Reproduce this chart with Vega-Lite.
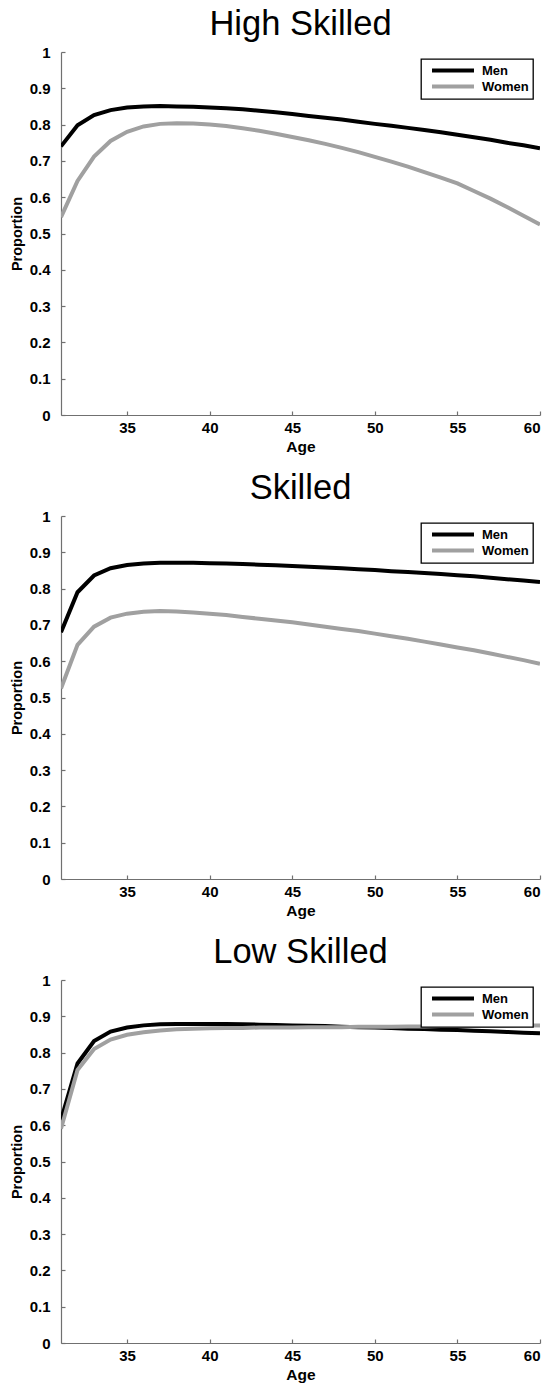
{
  "$schema": "https://vega.github.io/schema/vega-lite/v6.json",
  "background": "white",
  "padding": {"left": 9, "top": 6, "right": 5, "bottom": 5},
  "config": {
    "view": {"stroke": null},
    "font": "Liberation Sans",
    "title": {"font": "Liberation Sans", "fontSize": 34.5, "fontWeight": "normal", "color": "black", "offset": 3},
    "axis": {"labelFont": "Liberation Sans", "labelFontWeight": "bold", "labelFontSize": 15, "labelColor": "black", "titleFont": "Liberation Sans", "titleFontWeight": "bold", "titleFontSize": 14.5, "titleColor": "black", "domainColor": "#707070", "tickColor": "#707070", "domainWidth": 1.2, "tickWidth": 1.2, "grid": false, "tickSize": -4},
    "axisX": {"labelPadding": 9.5, "titlePadding": 4, "titleFontSize": 15.5},
    "axisY": {"labelPadding": 15, "titlePadding": 5},
    "legend": {"orient": "top-right", "offset": 7, "padding": 4, "strokeColor": "black", "strokeWidth": 1.3, "fillColor": "white", "symbolType": "M-0.09,0H7.545", "symbolSize": 121, "symbolStrokeWidth": 4, "labelOffset": 42, "labelFont": "Liberation Sans", "labelFontSize": 13, "labelFontWeight": "bold", "labelColor": "black", "rowPadding": -6, "title": null},
    "concat": {"spacing": 15}
  },
  "datasets": {
    "d": [
      {"g":"High Skilled","s":"Men","a":31,"p":0.740},{"g":"High Skilled","s":"Men","a":32,"p":0.798},{"g":"High Skilled","s":"Men","a":33,"p":0.826},{"g":"High Skilled","s":"Men","a":34,"p":0.840},{"g":"High Skilled","s":"Men","a":35,"p":0.847},{"g":"High Skilled","s":"Men","a":36,"p":0.850},{"g":"High Skilled","s":"Men","a":37,"p":0.851},{"g":"High Skilled","s":"Men","a":38,"p":0.850},{"g":"High Skilled","s":"Men","a":39,"p":0.849},{"g":"High Skilled","s":"Men","a":40,"p":0.847},{"g":"High Skilled","s":"Men","a":41,"p":0.845},{"g":"High Skilled","s":"Men","a":42,"p":0.842},{"g":"High Skilled","s":"Men","a":43,"p":0.838},{"g":"High Skilled","s":"Men","a":44,"p":0.834},{"g":"High Skilled","s":"Men","a":45,"p":0.829},{"g":"High Skilled","s":"Men","a":46,"p":0.824},{"g":"High Skilled","s":"Men","a":47,"p":0.819},{"g":"High Skilled","s":"Men","a":48,"p":0.814},{"g":"High Skilled","s":"Men","a":49,"p":0.808},{"g":"High Skilled","s":"Men","a":50,"p":0.802},{"g":"High Skilled","s":"Men","a":51,"p":0.797},{"g":"High Skilled","s":"Men","a":52,"p":0.791},{"g":"High Skilled","s":"Men","a":53,"p":0.785},{"g":"High Skilled","s":"Men","a":54,"p":0.779},{"g":"High Skilled","s":"Men","a":55,"p":0.772},{"g":"High Skilled","s":"Men","a":56,"p":0.765},{"g":"High Skilled","s":"Men","a":57,"p":0.758},{"g":"High Skilled","s":"Men","a":58,"p":0.750},{"g":"High Skilled","s":"Men","a":59,"p":0.743},{"g":"High Skilled","s":"Men","a":60,"p":0.735},
      {"g":"High Skilled","s":"Women","a":31,"p":0.545},{"g":"High Skilled","s":"Women","a":32,"p":0.645},{"g":"High Skilled","s":"Women","a":33,"p":0.712},{"g":"High Skilled","s":"Women","a":34,"p":0.755},{"g":"High Skilled","s":"Women","a":35,"p":0.780},{"g":"High Skilled","s":"Women","a":36,"p":0.795},{"g":"High Skilled","s":"Women","a":37,"p":0.802},{"g":"High Skilled","s":"Women","a":38,"p":0.804},{"g":"High Skilled","s":"Women","a":39,"p":0.803},{"g":"High Skilled","s":"Women","a":40,"p":0.800},{"g":"High Skilled","s":"Women","a":41,"p":0.796},{"g":"High Skilled","s":"Women","a":42,"p":0.790},{"g":"High Skilled","s":"Women","a":43,"p":0.783},{"g":"High Skilled","s":"Women","a":44,"p":0.775},{"g":"High Skilled","s":"Women","a":45,"p":0.766},{"g":"High Skilled","s":"Women","a":46,"p":0.757},{"g":"High Skilled","s":"Women","a":47,"p":0.747},{"g":"High Skilled","s":"Women","a":48,"p":0.736},{"g":"High Skilled","s":"Women","a":49,"p":0.724},{"g":"High Skilled","s":"Women","a":50,"p":0.711},{"g":"High Skilled","s":"Women","a":51,"p":0.698},{"g":"High Skilled","s":"Women","a":52,"p":0.684},{"g":"High Skilled","s":"Women","a":53,"p":0.669},{"g":"High Skilled","s":"Women","a":54,"p":0.654},{"g":"High Skilled","s":"Women","a":55,"p":0.638},{"g":"High Skilled","s":"Women","a":56,"p":0.617},{"g":"High Skilled","s":"Women","a":57,"p":0.596},{"g":"High Skilled","s":"Women","a":58,"p":0.573},{"g":"High Skilled","s":"Women","a":59,"p":0.549},{"g":"High Skilled","s":"Women","a":60,"p":0.525},
      {"g":"Skilled","s":"Men","a":31,"p":0.680},{"g":"Skilled","s":"Men","a":32,"p":0.790},{"g":"Skilled","s":"Men","a":33,"p":0.836},{"g":"Skilled","s":"Men","a":34,"p":0.856},{"g":"Skilled","s":"Men","a":35,"p":0.865},{"g":"Skilled","s":"Men","a":36,"p":0.869},{"g":"Skilled","s":"Men","a":37,"p":0.871},{"g":"Skilled","s":"Men","a":38,"p":0.871},{"g":"Skilled","s":"Men","a":39,"p":0.871},{"g":"Skilled","s":"Men","a":40,"p":0.870},{"g":"Skilled","s":"Men","a":41,"p":0.869},{"g":"Skilled","s":"Men","a":42,"p":0.868},{"g":"Skilled","s":"Men","a":43,"p":0.866},{"g":"Skilled","s":"Men","a":44,"p":0.864},{"g":"Skilled","s":"Men","a":45,"p":0.862},{"g":"Skilled","s":"Men","a":46,"p":0.860},{"g":"Skilled","s":"Men","a":47,"p":0.858},{"g":"Skilled","s":"Men","a":48,"p":0.856},{"g":"Skilled","s":"Men","a":49,"p":0.853},{"g":"Skilled","s":"Men","a":50,"p":0.851},{"g":"Skilled","s":"Men","a":51,"p":0.848},{"g":"Skilled","s":"Men","a":52,"p":0.846},{"g":"Skilled","s":"Men","a":53,"p":0.843},{"g":"Skilled","s":"Men","a":54,"p":0.840},{"g":"Skilled","s":"Men","a":55,"p":0.837},{"g":"Skilled","s":"Men","a":56,"p":0.834},{"g":"Skilled","s":"Men","a":57,"p":0.830},{"g":"Skilled","s":"Men","a":58,"p":0.826},{"g":"Skilled","s":"Men","a":59,"p":0.822},{"g":"Skilled","s":"Men","a":60,"p":0.818},
      {"g":"Skilled","s":"Women","a":31,"p":0.525},{"g":"Skilled","s":"Women","a":32,"p":0.645},{"g":"Skilled","s":"Women","a":33,"p":0.695},{"g":"Skilled","s":"Women","a":34,"p":0.720},{"g":"Skilled","s":"Women","a":35,"p":0.731},{"g":"Skilled","s":"Women","a":36,"p":0.736},{"g":"Skilled","s":"Women","a":37,"p":0.738},{"g":"Skilled","s":"Women","a":38,"p":0.737},{"g":"Skilled","s":"Women","a":39,"p":0.734},{"g":"Skilled","s":"Women","a":40,"p":0.731},{"g":"Skilled","s":"Women","a":41,"p":0.727},{"g":"Skilled","s":"Women","a":42,"p":0.722},{"g":"Skilled","s":"Women","a":43,"p":0.717},{"g":"Skilled","s":"Women","a":44,"p":0.712},{"g":"Skilled","s":"Women","a":45,"p":0.707},{"g":"Skilled","s":"Women","a":46,"p":0.701},{"g":"Skilled","s":"Women","a":47,"p":0.695},{"g":"Skilled","s":"Women","a":48,"p":0.689},{"g":"Skilled","s":"Women","a":49,"p":0.683},{"g":"Skilled","s":"Women","a":50,"p":0.676},{"g":"Skilled","s":"Women","a":51,"p":0.669},{"g":"Skilled","s":"Women","a":52,"p":0.662},{"g":"Skilled","s":"Women","a":53,"p":0.654},{"g":"Skilled","s":"Women","a":54,"p":0.646},{"g":"Skilled","s":"Women","a":55,"p":0.638},{"g":"Skilled","s":"Women","a":56,"p":0.630},{"g":"Skilled","s":"Women","a":57,"p":0.621},{"g":"Skilled","s":"Women","a":58,"p":0.612},{"g":"Skilled","s":"Women","a":59,"p":0.603},{"g":"Skilled","s":"Women","a":60,"p":0.593},
      {"g":"Low Skilled","s":"Men","a":31,"p":0.615},{"g":"Low Skilled","s":"Men","a":32,"p":0.770},{"g":"Low Skilled","s":"Men","a":33,"p":0.832},{"g":"Low Skilled","s":"Men","a":34,"p":0.858},{"g":"Low Skilled","s":"Men","a":35,"p":0.869},{"g":"Low Skilled","s":"Men","a":36,"p":0.875},{"g":"Low Skilled","s":"Men","a":37,"p":0.878},{"g":"Low Skilled","s":"Men","a":38,"p":0.879},{"g":"Low Skilled","s":"Men","a":39,"p":0.879},{"g":"Low Skilled","s":"Men","a":40,"p":0.879},{"g":"Low Skilled","s":"Men","a":41,"p":0.879},{"g":"Low Skilled","s":"Men","a":42,"p":0.878},{"g":"Low Skilled","s":"Men","a":43,"p":0.877},{"g":"Low Skilled","s":"Men","a":44,"p":0.876},{"g":"Low Skilled","s":"Men","a":45,"p":0.875},{"g":"Low Skilled","s":"Men","a":46,"p":0.874},{"g":"Low Skilled","s":"Men","a":47,"p":0.873},{"g":"Low Skilled","s":"Men","a":48,"p":0.871},{"g":"Low Skilled","s":"Men","a":49,"p":0.870},{"g":"Low Skilled","s":"Men","a":50,"p":0.869},{"g":"Low Skilled","s":"Men","a":51,"p":0.868},{"g":"Low Skilled","s":"Men","a":52,"p":0.866},{"g":"Low Skilled","s":"Men","a":53,"p":0.865},{"g":"Low Skilled","s":"Men","a":54,"p":0.863},{"g":"Low Skilled","s":"Men","a":55,"p":0.862},{"g":"Low Skilled","s":"Men","a":56,"p":0.860},{"g":"Low Skilled","s":"Men","a":57,"p":0.859},{"g":"Low Skilled","s":"Men","a":58,"p":0.857},{"g":"Low Skilled","s":"Men","a":59,"p":0.855},{"g":"Low Skilled","s":"Men","a":60,"p":0.853},
      {"g":"Low Skilled","s":"Women","a":31,"p":0.590},{"g":"Low Skilled","s":"Women","a":32,"p":0.752},{"g":"Low Skilled","s":"Women","a":33,"p":0.810},{"g":"Low Skilled","s":"Women","a":34,"p":0.836},{"g":"Low Skilled","s":"Women","a":35,"p":0.849},{"g":"Low Skilled","s":"Women","a":36,"p":0.856},{"g":"Low Skilled","s":"Women","a":37,"p":0.861},{"g":"Low Skilled","s":"Women","a":38,"p":0.864},{"g":"Low Skilled","s":"Women","a":39,"p":0.866},{"g":"Low Skilled","s":"Women","a":40,"p":0.867},{"g":"Low Skilled","s":"Women","a":41,"p":0.868},{"g":"Low Skilled","s":"Women","a":42,"p":0.868},{"g":"Low Skilled","s":"Women","a":43,"p":0.869},{"g":"Low Skilled","s":"Women","a":44,"p":0.869},{"g":"Low Skilled","s":"Women","a":45,"p":0.869},{"g":"Low Skilled","s":"Women","a":46,"p":0.870},{"g":"Low Skilled","s":"Women","a":47,"p":0.870},{"g":"Low Skilled","s":"Women","a":48,"p":0.870},{"g":"Low Skilled","s":"Women","a":49,"p":0.871},{"g":"Low Skilled","s":"Women","a":50,"p":0.871},{"g":"Low Skilled","s":"Women","a":51,"p":0.871},{"g":"Low Skilled","s":"Women","a":52,"p":0.872},{"g":"Low Skilled","s":"Women","a":53,"p":0.872},{"g":"Low Skilled","s":"Women","a":54,"p":0.873},{"g":"Low Skilled","s":"Women","a":55,"p":0.873},{"g":"Low Skilled","s":"Women","a":56,"p":0.873},{"g":"Low Skilled","s":"Women","a":57,"p":0.874},{"g":"Low Skilled","s":"Women","a":58,"p":0.874},{"g":"Low Skilled","s":"Women","a":59,"p":0.875},{"g":"Low Skilled","s":"Women","a":60,"p":0.875}
    ]
  },
  "resolve": {"scale": {"color": "independent"}, "legend": {"color": "independent"}},
  "vconcat": [
    {
      "title": "High Skilled",
      "width": 479, "height": 363,
      "data": {"name": "d"},
      "transform": [{"filter": "datum.g === 'High Skilled'"}],
      "mark": {"type": "line", "strokeWidth": 4, "clip": true},
      "encoding": {
        "x": {"field": "a", "type": "quantitative", "scale": {"domain": [31, 60], "nice": false, "zero": false}, "axis": {"title": "Age", "values": [35, 40, 45, 50, 55, 60]}},
        "y": {"field": "p", "type": "quantitative", "scale": {"domain": [0, 1], "nice": false}, "axis": {"title": "Proportion", "values": [0, 0.1, 0.2, 0.3, 0.4, 0.5, 0.6, 0.7, 0.8, 0.9, 1], "format": ".1~f"}},
        "color": {"field": "s", "type": "nominal", "scale": {"domain": ["Men", "Women"], "range": ["#000000", "#a0a0a0"]}}
      }
    },
    {
      "title": "Skilled",
      "width": 479, "height": 363,
      "data": {"name": "d"},
      "transform": [{"filter": "datum.g === 'Skilled'"}],
      "mark": {"type": "line", "strokeWidth": 4, "clip": true},
      "encoding": {
        "x": {"field": "a", "type": "quantitative", "scale": {"domain": [31, 60], "nice": false, "zero": false}, "axis": {"title": "Age", "values": [35, 40, 45, 50, 55, 60]}},
        "y": {"field": "p", "type": "quantitative", "scale": {"domain": [0, 1], "nice": false}, "axis": {"title": "Proportion", "values": [0, 0.1, 0.2, 0.3, 0.4, 0.5, 0.6, 0.7, 0.8, 0.9, 1], "format": ".1~f"}},
        "color": {"field": "s", "type": "nominal", "scale": {"domain": ["Men", "Women"], "range": ["#000000", "#a0a0a0"]}}
      }
    },
    {
      "title": "Low Skilled",
      "width": 479, "height": 363,
      "data": {"name": "d"},
      "transform": [{"filter": "datum.g === 'Low Skilled'"}],
      "mark": {"type": "line", "strokeWidth": 4, "clip": true},
      "encoding": {
        "x": {"field": "a", "type": "quantitative", "scale": {"domain": [31, 60], "nice": false, "zero": false}, "axis": {"title": "Age", "values": [35, 40, 45, 50, 55, 60]}},
        "y": {"field": "p", "type": "quantitative", "scale": {"domain": [0, 1], "nice": false}, "axis": {"title": "Proportion", "values": [0, 0.1, 0.2, 0.3, 0.4, 0.5, 0.6, 0.7, 0.8, 0.9, 1], "format": ".1~f"}},
        "color": {"field": "s", "type": "nominal", "scale": {"domain": ["Men", "Women"], "range": ["#000000", "#a0a0a0"]}}
      }
    }
  ]
}
